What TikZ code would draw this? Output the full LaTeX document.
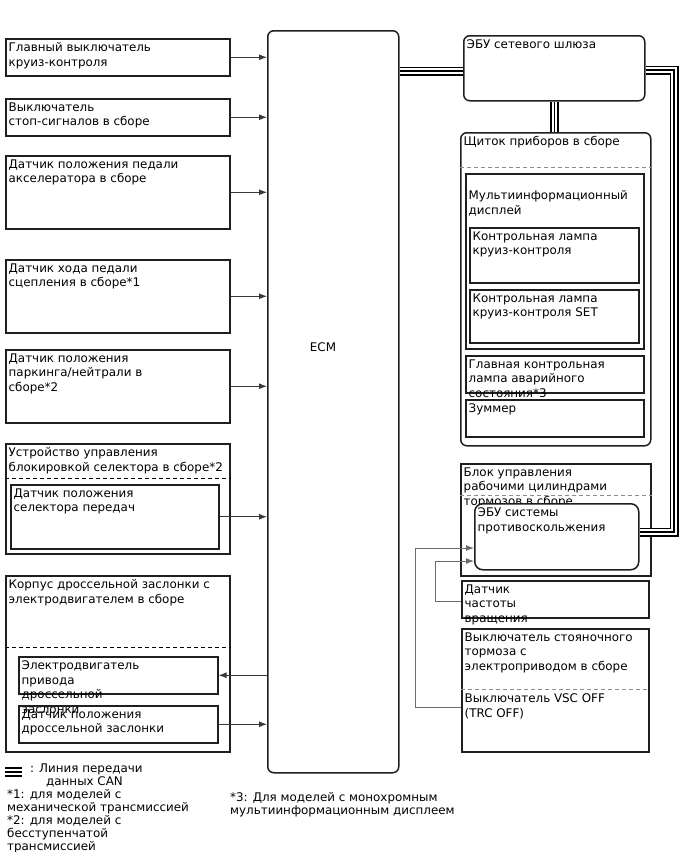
\documentclass[tikz,border=0pt]{standalone}
\usepackage{fontspec}
\setmainfont{DejaVu Sans}
\usetikzlibrary{arrows.meta}

\begin{document}
\begin{tikzpicture}[x=1pt, y=-1pt, line join=miter,
  blk/.style={draw=black!88, line width=1.5pt, anchor=north west, inner sep=0pt},
  rblk/.style={blk, rounded corners=6pt},
  txt/.style={anchor=north west, align=left, inner xsep=3.5pt, inner ysep=4.5pt, font=\fontsize{11.9}{14.5}\selectfont},
  sig/.style={draw=black!78, line width=1pt, -{Latex[length=8pt,width=6pt]}},
  gsig/.style={draw=black!58, line width=1pt, -{Latex[length=8pt,width=6pt]}},
  can/.style={draw=black, line width=9pt, postaction={draw=white, line width=5.5pt}, postaction={draw=black, line width=1.5pt}},
  dsh/.style={line width=1pt, dash pattern=on 4pt off 3pt}]

\useasboundingbox (0,0) rectangle (688,852);

% ECM
\node[rblk, minimum width=131pt, minimum height=742pt] (ecm) at (267,30) {};
\node[font=\fontsize{11.9}{14.5}\selectfont] (ecmT) at (323,347) {ECM};

% inputs on the left
\node[blk, minimum width=224pt, minimum height=37pt] (cruise) at (5,38) {};
\node[txt] (cruiseT) at (cruise.north west) {Главный выключатель\\круиз-контроля};

\node[blk, minimum width=224pt, minimum height=37pt] (stop) at (5,98) {};
\node[txt] (stopT) at (stop.north west) {Выключатель\\стоп-сигналов в сборе};

\node[blk, minimum width=224pt, minimum height=73pt] (accel) at (5,155) {};
\node[txt] (accelT) at (accel.north west) {Датчик положения педали\\акселератора в сборе};

\node[blk, minimum width=224pt, minimum height=73pt] (clutch) at (5,259) {};
\node[txt] (clutchT) at (clutch.north west) {Датчик хода педали\\сцепления в сборе*1};

\node[blk, minimum width=224pt, minimum height=73pt] (pnp) at (5,349) {};
\node[txt] (pnpT) at (pnp.north west) {Датчик положения\\паркинга/нейтрали в\\сборе*2};

\node[blk, minimum width=224pt, minimum height=110pt] (lock) at (5,443) {};
\node[txt] (lockT) at (lock.north west) {Устройство управления\\блокировкой селектора в сборе*2};
\draw[dsh] (lock.west |- 0,478) -- (lock.east |- 0,478);
\node[blk, minimum width=208pt, minimum height=64pt] (sel) at (10,484) {};
\node[txt] (selT) at (sel.north west) {Датчик положения\\селектора передач};

\node[blk, minimum width=224pt, minimum height=176pt] (thr) at (5,575) {};
\node[txt] (thrT) at (thr.north west) {Корпус дроссельной заслонки с\\электродвигателем в сборе};
\draw[dsh] (thr.west |- 0,647) -- (thr.east |- 0,647);
\node[blk, minimum width=199pt, minimum height=37pt] (thm) at (18,656) {};
\node[txt] (thmT) at (thm.north west) {Электродвигатель\\привода\\дроссельной\\заслонки};
\node[blk, minimum width=199pt, minimum height=37pt] (ths) at (18,705) {};
\node[txt] (thsT) at (ths.north west) {Датчик положения\\дроссельной заслонки};

\draw[sig] (cruise.east) -- (cruise.east -| ecm.west);
\draw[sig] (stop.east) -- (stop.east -| ecm.west);
\draw[sig] (accel.east) -- (accel.east -| ecm.west);
\draw[sig] (clutch.east) -- (clutch.east -| ecm.west);
\draw[sig] (pnp.east) -- (pnp.east -| ecm.west);
\draw[sig] (sel.east) -- (sel.east -| ecm.west);
\draw[sig] (ecm.west |- thm.east) -- (thm.east);
\draw[sig] (ths.east) -- (ths.east -| ecm.west);

% right side
\node[rblk, minimum width=181pt, minimum height=65pt] (gw) at (463,35) {};
\node[txt] (gwT) at (gw.north west) {ЭБУ сетевого шлюза};

\node[rblk, minimum width=190pt, minimum height=313pt] (clu) at (460,132) {};
\node[txt] (cluT) at (clu.north west) {Щиток приборов в сборе};
\draw[dsh, draw=black!45] (clu.west |- 0,167) -- (clu.east |- 0,167);
\node[blk, minimum width=178pt, minimum height=175pt] (mfd) at (465,173) {};
\node[txt] (mfdT) at (465,186) {Мультиинформационный\\дисплей};
\node[blk, minimum width=169pt, minimum height=55pt] (lampA) at (469,227) {};
\node[txt] (lampAT) at (lampA.north west) {Контрольная лампа\\круиз-контроля};
\node[blk, minimum width=169pt, minimum height=53pt] (lampB) at (469,289) {};
\node[txt] (lampBT) at (lampB.north west) {Контрольная лампа\\круиз-контроля SET};
\node[blk, minimum width=178pt, minimum height=37pt] (mil) at (465,355) {};
\node[txt] (milT) at (mil.north west) {Главная контрольная\\лампа аварийного\\состояния*3};
\node[blk, minimum width=178pt, minimum height=37pt] (buz) at (465,399) {};
\node[txt] (buzT) at (buz.north west) {Зуммер};

\node[blk, minimum width=190pt, minimum height=112pt] (act) at (460,463) {};
\node[txt] (actT) at (act.north west) {Блок управления\\рабочими цилиндрами\\тормозов в сборе};
\draw[dsh, draw=black!45] (act.west |- 0,495) -- (act.east |- 0,495);
\node[rblk, rounded corners=8pt, fill=white, minimum width=164pt, minimum height=66pt] (abs) at (474,503) {};
\node[txt] (absT) at (abs.north west) {ЭБУ системы\\противоскольжения};

\node[blk, minimum width=187pt, minimum height=37pt] (spd) at (461,580) {};
\node[txt] (spdT) at (spd.north west) {Датчик\\частоты\\вращения};

\node[blk, minimum width=187pt, minimum height=123pt] (epb) at (461,628) {};
\node[txt] (epbT) at (epb.north west) {Выключатель стояночного\\тормоза с\\электроприводом в сборе};
\draw[dsh, draw=black!45] (epb.west |- 0,689) -- (epb.east |- 0,689);
\node[txt] (vscT) at (epb.west |- 0,689) {Выключатель VSC OFF\\(TRC OFF)};

\draw[gsig] (epb.west |- 0,707) -| (415,548) -- (abs.west |- 0,548);
\draw[gsig] (spd.west |- 0,601) -| (435,561) -- (abs.west |- 0,561);

% CAN lines
\draw[can] (ecm.east |- 0,71) -- (gw.west |- 0,71);
\draw[can] (gw.south) -- (gw.south |- clu.north);
\draw[can] (gw.east |- 0,70) -| (674,532) -- (abs.east |- 0,532);

% legend
\foreach \yy in {767.5,771.5,775.5}
  \draw[line width=2pt] (5,\yy) -- (22,\yy);
\node[txt, font=\fontsize{11.9}{13}\selectfont, inner xsep=0pt, inner ysep=0pt] (notes) at (7,764)
  {\hspace*{23pt}: Линия передачи\\\hspace*{39pt}данных CAN\\*1: для моделей с\\механической трансмиссией\\*2: для моделей с\\бесступенчатой\\трансмиссией};
\node[txt, font=\fontsize{11.9}{13}\selectfont, inner xsep=0pt, inner ysep=0pt] (note3) at (230,792)
  {*3: Для моделей с монохромным\\мультиинформационным дисплеем};

\end{tikzpicture}
\end{document}
